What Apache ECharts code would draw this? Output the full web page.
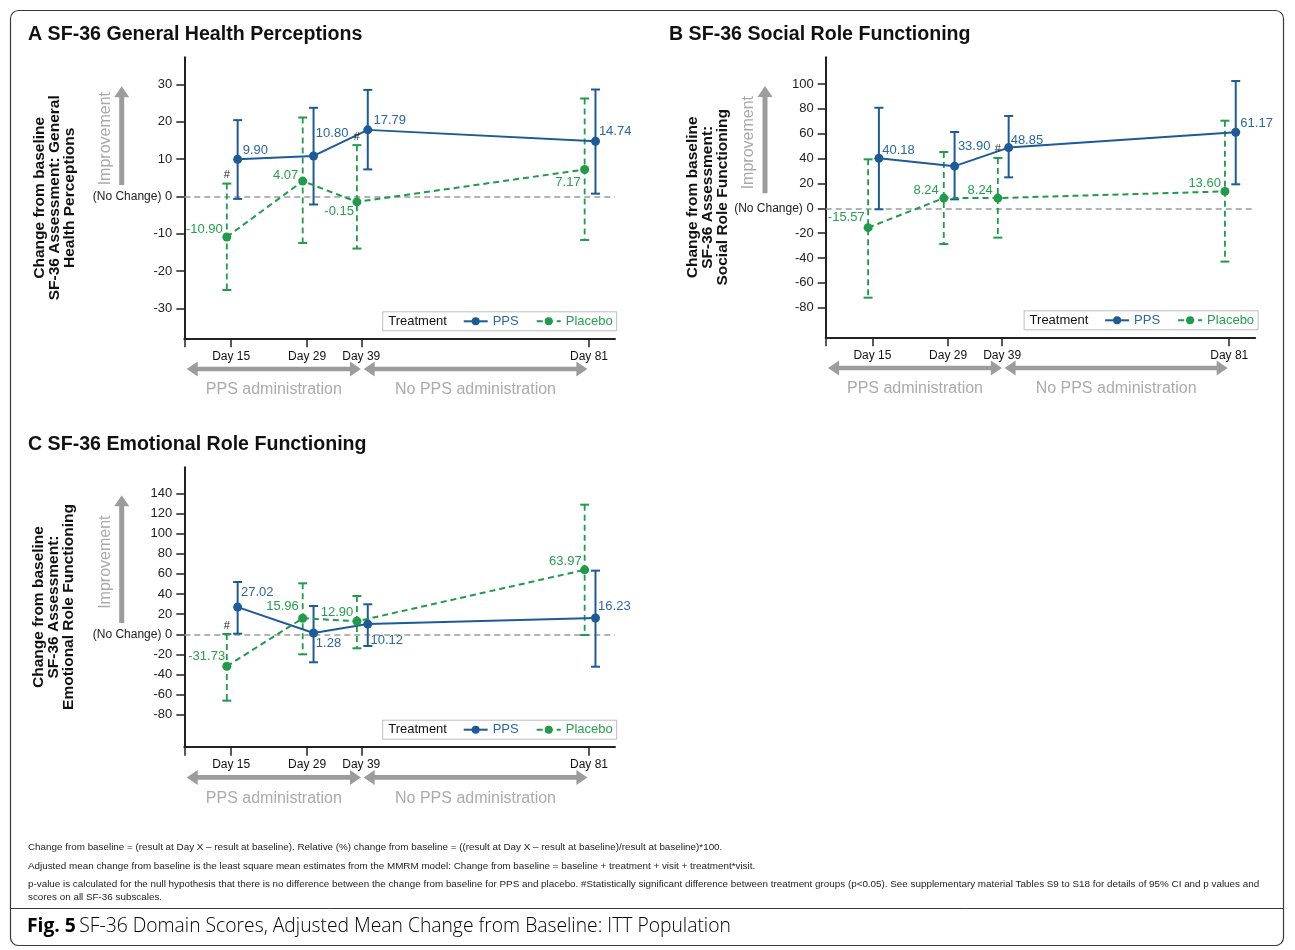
<!DOCTYPE html>
<html><head><meta charset="utf-8">
<script src="https://cdn.jsdelivr.net/npm/echarts@6/dist/echarts.min.js"></script>
<style>html,body{margin:0;padding:0;background:#fff}#c{width:1295px;height:950px}</style>
</head><body><div id="c"></div>
<script>
// ---------- data ----------
const days = [15, 29, 39, 81];
const dayLabels = ['Day 15', 'Day 29', 'Day 39', 'Day 81'];

// A  SF-36 General Health Perceptions
const ppsA    = [9.90, 10.80, 17.79, 14.74];
const ppsA_lo = [-0.7, -2.2, 7.2, 0.7];
const ppsA_hi = [20.4, 23.7, 28.5, 28.6];
const ppsA_lab = ['9.90', '10.80', '17.79', '14.74'];
const plaA    = [-10.90, 4.07, -1.5, 7.17];
const plaA_lo = [-25.1, -12.5, -14.0, -11.7];
const plaA_hi = [3.4, 21.1, 13.7, 26.2];
const plaA_lab = ['-10.90', '4.07', '-0.15', '7.17'];
const sigA = [15, 39];
const ticksA = [-30, -20, -10, 0, 10, 20, 30];

// B  SF-36 Social Role Functioning
const ppsB    = [40.18, 33.90, 48.85, 61.17];
const ppsB_lo = [-0.8, 7.2, 24.9, 19.3];
const ppsB_hi = [80.9, 61.4, 74.3, 102.4];
const ppsB_lab = ['40.18', '33.90', '48.85', '61.17'];
const plaB    = [-15.57, 8.24, 8.24, 13.60];
const plaB_lo = [-71.9, -28.7, -23.6, -42.9];
const plaB_hi = [39.4, 45.3, 40.5, 70.5];
const plaB_lab = ['-15.57', '8.24', '8.24', '13.60'];
const sigB = [39];
const ticksB = [-80, -60, -40, -20, 0, 20, 40, 60, 80, 100];

// C  SF-36 Emotional Role Functioning
const ppsC    = [27.02, 1.28, 10.12, 16.23];
const ppsC_lo = [0.6, -27.8, -11.6, -32.2];
const ppsC_hi = [51.9, 28.1, 29.8, 63.2];
const ppsC_lab = ['27.02', '1.28', '10.12', '16.23'];
const plaC    = [-31.73, 15.96, 12.90, 63.97];
const plaC_lo = [-65.9, -19.9, -13.9, -0.7];
const plaC_hi = [0.3, 50.6, 38.0, 128.7];
const plaC_lab = ['-31.73', '15.96', '12.90', '63.97'];
const sigC = [15];
const ticksC = [-80, -60, -40, -20, 0, 20, 40, 60, 80, 100, 120, 140];

// ---------- style / layout ----------
const FONT = "'Liberation Sans', Arial, sans-serif";
const PPS_COLOR = '#1d5b98', PLA_COLOR = '#1f9b4b';
const PPS_TEXT = '#2b66a6', PLA_TEXT = '#25a04f';
const PPS_SHIFT = 1.2, PLA_SHIFT = -0.8;   // cluster offsets (days)
const SYM = 9;
const X_MIN = 6.36, X_MAX = 85.8;

const panels = [
  { title: 'A SF-36 General Health Perceptions', titlePos: [28, 35],
    yName: 'Change from baseline\nSF-36 Assessment: General\nHealth Perceptions',
    pps: ppsA, ppsLo: ppsA_lo, ppsHi: ppsA_hi, ppsLab: ppsA_lab,
    pla: plaA, plaLo: plaA_lo, plaHi: plaA_hi, plaLab: plaA_lab,
    sig: sigA, ticks: ticksA, yMin: -38.04, yMax: 37.23,
    grid: { left: 184.3, top: 57.3, width: 430.7, height: 281 }, nameGap: 107.5, impDx: -62.6, impBot: 11.3,
    ppsOff: [[5, -8.6], [2.3, -23], [5.7, -9.6], [3.4, -10.3]],
    plaOff: [[-4, -7.4], [-4.4, -6], [-3, 9.7], [-4, 12.7]] },
  { title: 'B SF-36 Social Role Functioning', titlePos: [669, 35],
    yName: 'Change from baseline\nSF-36 Assessment:\nSocial Role Functioning',
    pps: ppsB, ppsLo: ppsB_lo, ppsHi: ppsB_hi, ppsLab: ppsB_lab,
    pla: plaB, plaLo: plaB_lo, plaHi: plaB_hi, plaLab: plaB_lab,
    sig: sigB, ticks: ticksB, yMin: -103.8, yMax: 121.5,
    grid: { left: 825.7, top: 57.3, width: 429.5, height: 280 }, nameGap: 87, impDx: -60.7, impBot: 15,
    ppsOff: [[3.4, -8], [3.3, -19.3], [2, -7.4], [4.6, -8.4]],
    plaOff: [[-3.4, -10], [-5, -7.7], [-5, -7.7], [-4, -7.7]] },
  { title: 'C SF-36 Emotional Role Functioning', titlePos: [28, 445],
    yName: 'Change from baseline\nSF-36 Assessment:\nEmotional Role Functioning',
    pps: ppsC, ppsLo: ppsC_lo, ppsHi: ppsC_hi, ppsLab: ppsC_lab,
    pla: plaC, plaLo: plaC_lo, plaHi: plaC_hi, plaLab: plaC_lab,
    sig: sigC, ticks: ticksC, yMin: -111.6, yMax: 165.8,
    grid: { left: 184.3, top: 467.3, width: 430.7, height: 279.4 }, nameGap: 108, impDx: -62.6, impBot: 11.3,
    ppsOff: [[3.3, -15], [2.3, 10.7], [2.7, 16.7], [2.6, -11.3]],
    plaOff: [[-1.7, -10], [-4, -11.7], [-3.6, -9], [-3, -8.7]] }
];

function errRender(color, dashed) {
  return function (params, api) {
    const x = api.value(0), lo = api.value(1), hi = api.value(2);
    const p1 = api.coord([x, hi]), p2 = api.coord([x, lo]);
    const w = 4.5;
    const cap = { stroke: color, lineWidth: 2 };
    return { type: 'group', children: [
      { type: 'line', shape: { x1: p1[0], y1: p1[1], x2: p2[0], y2: p2[1] },
        style: { stroke: color, lineWidth: dashed ? 1.8 : 2, lineDash: dashed ? [6, 4] : null } },
      { type: 'line', shape: { x1: p1[0] - w, y1: p1[1], x2: p1[0] + w, y2: p1[1] }, style: cap },
      { type: 'line', shape: { x1: p2[0] - w, y1: p2[1], x2: p2[0] + w, y2: p2[1] }, style: cap }
    ] };
  };
}
function sigRender(params, api) {
  const p = api.coord([api.value(0), api.value(1)]);
  return { type: 'text', x: p[0], y: p[1] - 3,
    style: { text: '#', align: 'center', verticalAlign: 'bottom', font: '11px ' + FONT, fill: '#222' } };
}
function pointLabel(text, off, color) {
  const r = SYM / 2;
  return { show: true, formatter: text, position: [off[0] + r, off[1] + r],
    align: off[0] >= 0 ? 'left' : 'right', verticalAlign: 'middle',
    color: color, fontSize: 13, fontFamily: FONT };
}

const grids = [], xAxes = [], yAxes = [], series = [], legends = [];
panels.forEach((p, i) => {
  grids.push(Object.assign({ outerBoundsMode: 'none', containLabel: false }, p.grid));
  xAxes.push({
    type: 'value', gridIndex: i, min: X_MIN, max: X_MAX,
    axisLine: { show: true, onZero: false, lineStyle: { color: '#222', width: 2 } },
    axisTick: { show: true, customValues: [X_MIN].concat(days), length: 9, lineStyle: { color: '#222', width: 1.5 } },
    axisLabel: { show: true, customValues: days, margin: 12, fontSize: 12, fontFamily: FONT, color: '#111',
      formatter: v => dayLabels[days.indexOf(v)] || '' },
    splitLine: { show: false }
  });
  yAxes.push({
    type: 'value', gridIndex: i, min: p.yMin, max: p.yMax,
    axisLine: { show: true, onZero: false, lineStyle: { color: '#222', width: 2 } },
    axisTick: { show: true, customValues: p.ticks, length: 8, lineStyle: { color: '#222', width: 1.5 } },
    axisLabel: { show: true, customValues: p.ticks, margin: 12, fontSize: 13, fontFamily: FONT, color: '#222',
      formatter: v => v === 0 ? '{nc|(No Change)} 0' : String(v),
      rich: { nc: { fontSize: 12, fontFamily: FONT, color: '#222' } } },
    splitLine: { show: false },
    name: p.yName, nameLocation: 'middle', nameRotate: 90, nameGap: p.nameGap,
    nameTextStyle: { fontWeight: 'bold', fontSize: 15.5, lineHeight: 15, fontFamily: FONT, color: '#111', align: 'center' }
  });
  series.push({
    type: 'custom', name: 'PPS CI', xAxisIndex: i, yAxisIndex: i, z: 2, silent: true,
    renderItem: errRender(PPS_COLOR, false), encode: { x: 0, y: [1, 2] },
    data: days.map((d, k) => [d + PPS_SHIFT, p.ppsLo[k], p.ppsHi[k]])
  });
  series.push({
    type: 'custom', name: 'Placebo CI', xAxisIndex: i, yAxisIndex: i, z: 2, silent: true,
    renderItem: errRender(PLA_COLOR, true), encode: { x: 0, y: [1, 2] },
    data: days.map((d, k) => [d + PLA_SHIFT, p.plaLo[k], p.plaHi[k]])
  });
  series.push({
    type: 'line', name: 'PPS', xAxisIndex: i, yAxisIndex: i, z: 4,
    symbol: 'circle', symbolSize: SYM, showAllSymbol: true,
    lineStyle: { color: PPS_COLOR, width: 2 }, itemStyle: { color: PPS_COLOR },
    data: days.map((d, k) => ({ value: [d + PPS_SHIFT, p.pps[k]], label: pointLabel(p.ppsLab[k], p.ppsOff[k], PPS_TEXT) })),
    markLine: { silent: true, symbol: 'none', z: 1, label: { show: false },
      lineStyle: { color: '#9a9a9a', type: [6, 4], width: 1.5 }, data: [{ yAxis: 0 }] }
  });
  series.push({
    type: 'line', name: 'Placebo', xAxisIndex: i, yAxisIndex: i, z: 4,
    symbol: 'circle', symbolSize: SYM, showAllSymbol: true,
    lineStyle: { color: PLA_COLOR, width: 2, type: [6, 4] }, itemStyle: { color: PLA_COLOR },
    data: days.map((d, k) => ({ value: [d + PLA_SHIFT, p.pla[k]], label: pointLabel(p.plaLab[k], p.plaOff[k], PLA_TEXT) }))
  });
  series.push({
    type: 'custom', name: 'sig', xAxisIndex: i, yAxisIndex: i, z: 5, silent: true,
    renderItem: sigRender, encode: { x: 0, y: 1 },
    data: p.sig.map(d => [d + PLA_SHIFT, p.plaHi[days.indexOf(d)]])
  });
  legends.push({
    left: p.grid.left + 198.4, top: p.grid.top + p.grid.height - 26.5,
    orient: 'horizontal', padding: [3, 4, 3, 80], itemGap: 17, itemWidth: 24, itemHeight: 10,
    borderColor: '#bdbdbd', borderWidth: 1, backgroundColor: '#fff', selectedMode: false,
    textStyle: { fontSize: 13, fontFamily: FONT },
    data: [{ name: 'PPS', textStyle: { color: PPS_TEXT } }, { name: 'Placebo', textStyle: { color: PLA_TEXT } }]
  });
});

const chart = echarts.init(document.getElementById('c'), null, { renderer: 'canvas' });
chart.setOption({
  animation: false, backgroundColor: '#fff',
  textStyle: { fontFamily: FONT },
  grid: grids, xAxis: xAxes, yAxis: yAxes, series: series, legend: legends
});

// ---------- annotations ----------
const G = [];
G.push({ type: 'rect', shape: { x: 10.5, y: 10.5, width: 1273, height: 935, r: 8 }, style: { fill: 'none', stroke: '#3a3a3a', lineWidth: 1.2 }, silent: true });
G.push({ type: 'line', shape: { x1: 10.5, y1: 908.5, x2: 1283.5, y2: 908.5 }, style: { stroke: '#3a3a3a', lineWidth: 1 }, silent: true });

function hArrow(x1, x2, y) {
  const hl = 11, hh = 7.5, st = 2.3;
  return { type: 'polygon', silent: true, shape: { points: [
    [x1, y], [x1 + hl, y - hh], [x1 + hl, y - st], [x2 - hl, y - st], [x2 - hl, y - hh], [x2, y],
    [x2 - hl, y + hh], [x2 - hl, y + st], [x1 + hl, y + st], [x1 + hl, y + hh]] },
    style: { fill: '#9c9c9c' } };
}
function vArrow(x, yTop, yBot) {
  const hl = 11, hw = 7.5, st = 2.5;
  return { type: 'polygon', silent: true, shape: { points: [
    [x, yTop], [x + hw, yTop + hl], [x + st, yTop + hl], [x + st, yBot], [x - st, yBot], [x - st, yTop + hl], [x - hw, yTop + hl]] },
    style: { fill: '#9c9c9c' } };
}

panels.forEach((p, i) => {
  const px = v => chart.convertToPixel({ xAxisIndex: i }, v);
  const py = v => chart.convertToPixel({ yAxisIndex: i }, v);
  const gl = p.grid.left, gb = p.grid.top + p.grid.height;
  G.push({ type: 'text', x: p.titlePos[0], y: p.titlePos[1], silent: true,
    style: { text: p.title, font: 'bold 19.6px ' + FONT, fill: '#111', verticalAlign: 'middle' } });
  // legend caption
  G.push({ type: 'text', x: gl + 198.4 + 5.5, y: gb - 17, silent: true, z: 100,
    style: { text: 'Treatment', font: '13px ' + FONT, fill: '#111', verticalAlign: 'middle' } });
  // improvement arrow
  const ax = gl + p.impDx;
  const yTop = py(p.ticks[p.ticks.length - 1]) + 2;
  const yBot = py(0) - p.impBot;
  G.push(vArrow(ax, yTop, yBot));
  G.push({ type: 'text', x: ax - 16.5, y: (yTop + yBot) / 2 + 3, rotation: Math.PI / 2, silent: true,
    style: { text: 'Improvement', font: '16px ' + FONT, fill: '#a9a9a9', align: 'center', verticalAlign: 'middle' } });
  // administration arrows
  const ya = gb + 30.7;
  const a1 = gl + 2.4, a2 = px(39) - 0.3, a3 = px(39) + 2.4, a4 = px(81) - 1.6;
  G.push(hArrow(a1, a2, ya));
  G.push(hArrow(a3, a4, ya));
  G.push({ type: 'text', x: (a1 + a2) / 2, y: gb + 51.7, silent: true,
    style: { text: 'PPS administration', font: '16px ' + FONT, fill: '#ababab', align: 'center', verticalAlign: 'middle' } });
  G.push({ type: 'text', x: (a3 + a4) / 2, y: gb + 51.7, silent: true,
    style: { text: 'No PPS administration', font: '16px ' + FONT, fill: '#ababab', align: 'center', verticalAlign: 'middle' } });
});

const notes = [
  ['Change from baseline = (result at Day X \u2013 result at baseline). Relative (%) change from baseline = ((result at Day X \u2013 result at baseline)/result at baseline)*100.', 847],
  ['Adjusted mean change from baseline is the least square mean estimates from the MMRM model: Change from baseline = baseline + treatment + visit + treatment*visit.', 866],
  ['p-value is calculated for the null hypothesis that there is no difference between the change from baseline for PPS and placebo. #Statistically significant difference between treatment groups (p<0.05). See supplementary material Tables S9 to S18 for details of 95% CI and p values and', 884],
  ['scores on all SF-36 subscales.', 897]
];
notes.forEach(n => G.push({ type: 'text', x: 28, y: n[1], silent: true,
  style: { text: n[0], font: '9.85px ' + FONT, fill: '#222', verticalAlign: 'middle' } }));
G.push({ type: 'text', x: 27, y: 927, silent: true,
  style: { text: '{b|Fig. 5} {n|SF-36 Domain Scores, Adjusted Mean Change from Baseline: ITT Population}', verticalAlign: 'middle',
    rich: { b: { fontFamily: "'Open Sans', sans-serif", fontWeight: 'bold', fontSize: 19.3, color: '#111' },
            n: { fontFamily: "'Open Sans', sans-serif", fontWeight: 300, fontSize: 19.3, color: '#111' } } } });

chart.setOption({ graphic: { elements: G } });
</script></body></html>
